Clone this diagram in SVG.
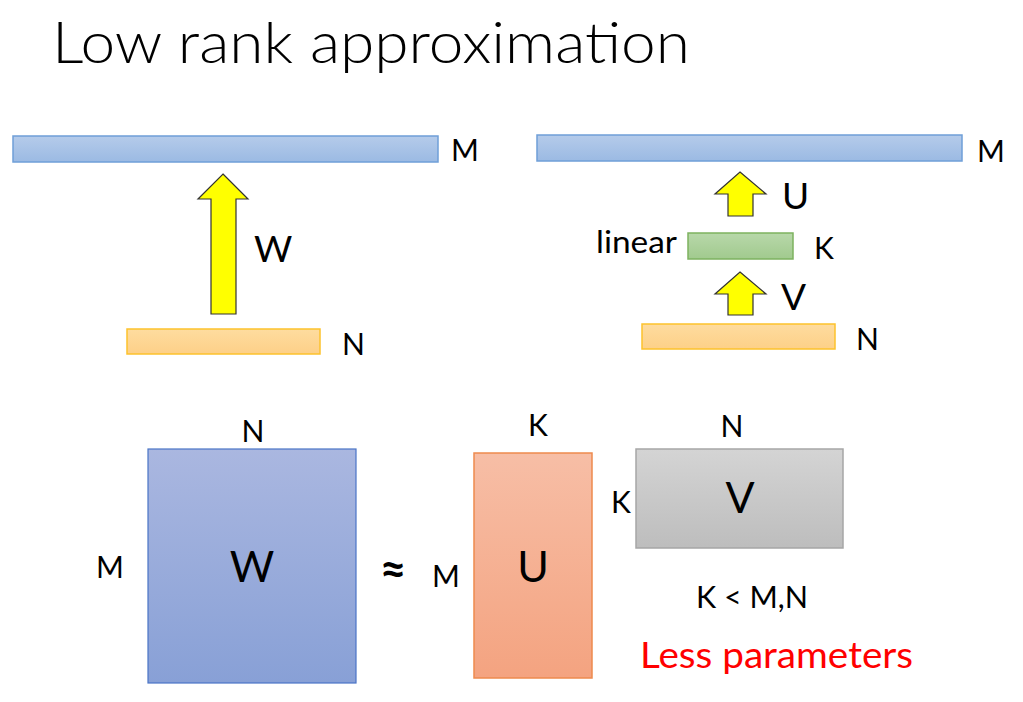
<svg xmlns="http://www.w3.org/2000/svg" width="1023" height="702" viewBox="0 0 1023 702">
<defs>
<linearGradient id="gBlue" x1="0" y1="0" x2="0" y2="1"><stop offset="0" stop-color="#b5cbea"/><stop offset="1" stop-color="#9bbae3"/></linearGradient>
<linearGradient id="gOrange" x1="0" y1="0" x2="0" y2="1"><stop offset="0" stop-color="#fedc9f"/><stop offset="1" stop-color="#fdd088"/></linearGradient>
<linearGradient id="gGreen" x1="0" y1="0" x2="0" y2="1"><stop offset="0" stop-color="#b8d8aa"/><stop offset="1" stop-color="#a1ca8e"/></linearGradient>
<linearGradient id="gW" x1="0" y1="0" x2="0" y2="1"><stop offset="0" stop-color="#aab7e0"/><stop offset="1" stop-color="#88a0d6"/></linearGradient>
<linearGradient id="gU" x1="0" y1="0" x2="0" y2="1"><stop offset="0" stop-color="#f7bea6"/><stop offset="1" stop-color="#f4a380"/></linearGradient>
<linearGradient id="gV" x1="0" y1="0" x2="0" y2="1"><stop offset="0" stop-color="#d4d4d4"/><stop offset="1" stop-color="#bdbdbd"/></linearGradient>
</defs>
<style>
text{font-family:Lato,"Open Sans","Liberation Sans",sans-serif;fill:#000}
.lbl{font-size:30px}
.big{font-size:37px}
.mat{font-size:43px;text-anchor:middle}
.bar{fill:url(#gBlue);stroke:#6f9fd8;stroke-width:1.5}
.inp{fill:url(#gOrange);stroke:#fdc22c;stroke-width:1.5}
.arrow{fill:#ffff00;stroke:#333;stroke-width:1.2}
</style>
<rect width="1023" height="702" fill="#fff"/>
<text x="52" y="63" style="font-size:57px;font-weight:300" textLength="638" lengthAdjust="spacingAndGlyphs">Low rank approximation</text>

<g id="left-output"><rect class="bar" x="13" y="136" width="425" height="26"/><text class="lbl" x="451" y="161">M</text></g>
<g id="left-input"><rect class="inp" x="127" y="329" width="193" height="25"/><text class="lbl" x="342" y="355">N</text></g>
<g id="right-output"><rect class="bar" x="537" y="135" width="425" height="26"/><text class="lbl" x="977" y="162">M</text></g>
<g id="right-linear"><text class="lbl" x="596" y="253" textLength="81" lengthAdjust="spacingAndGlyphs">linear</text><rect x="688" y="233" width="105" height="26" fill="url(#gGreen)" stroke="#7db25f" stroke-width="1.5"/><text class="lbl" x="814" y="259">K</text></g>
<g id="right-input"><rect class="inp" x="642" y="324" width="193" height="25"/><text class="lbl" x="856" y="350">N</text></g>

<g id="connectors">
<polygon class="arrow" points="223,174 248,199 236,199 236,314 211,314 211,199 198,199"/>
<text class="big" x="254" y="262">W</text>
<polygon class="arrow" points="740,172 766,194 753,194 753,216 728,216 728,194 715,194"/>
<text class="big" x="782" y="209">U</text>
<polygon class="arrow" points="740,272 766,294 753,294 753,315 728,315 728,294 715,294"/>
<text class="big" x="781" y="310">V</text>
</g>

<g id="matrix-W">
<rect x="148" y="449" width="208" height="234" fill="url(#gW)" stroke="#4a74c6" stroke-width="1.2"/>
<text class="lbl" x="253" y="442" text-anchor="middle">N</text>
<text class="lbl" x="96" y="578">M</text>
<text class="mat" x="252" y="582">W</text>
</g>
<text x="393" y="585" style="font-size:46px;font-weight:bold" text-anchor="middle">≈</text>
<g id="matrix-U">
<rect x="474" y="453" width="118" height="225" fill="url(#gU)" stroke="#ee8a4e" stroke-width="1.5"/>
<text class="lbl" x="538" y="436" text-anchor="middle">K</text>
<text class="lbl" x="432" y="587">M</text>
<text class="mat" x="533" y="582">U</text>
</g>
<g id="matrix-V">
<rect x="636" y="449" width="207" height="99" fill="url(#gV)" stroke="#a6a6a6" stroke-width="1.5"/>
<text class="lbl" x="732" y="437" text-anchor="middle">N</text>
<text class="lbl" x="611" y="513">K</text>
<text class="mat" x="740" y="513">V</text>
</g>
<text x="696" y="608" style="font-size:31px" textLength="112" lengthAdjust="spacingAndGlyphs">K &lt; M,N</text>
<text x="640" y="668" style="font-size:36px;fill:#ff0000" textLength="273" lengthAdjust="spacingAndGlyphs">Less parameters</text>
</svg>
